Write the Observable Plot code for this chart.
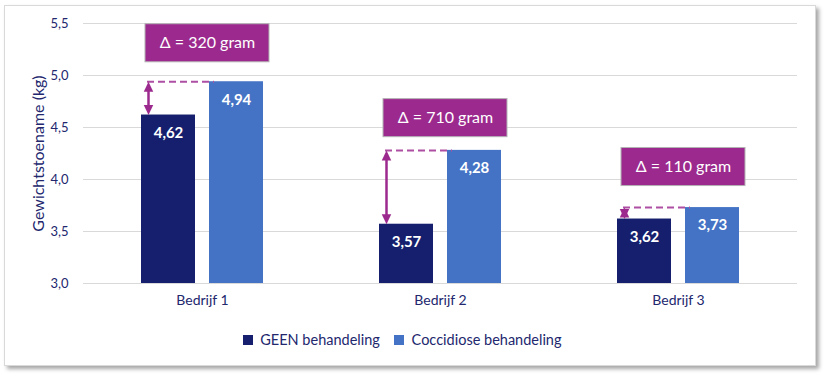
<!DOCTYPE html>
<html><head><meta charset="utf-8">
<script src="https://cdn.jsdelivr.net/npm/d3@7"></script>
<script src="https://cdn.jsdelivr.net/npm/@observablehq/plot@0.6"></script>
<style>
body{margin:0;background:#fff;font-family:Lato,sans-serif;}
#card{position:absolute;left:4px;top:5px;width:810px;height:359px;border:1px solid #d9d9d9;box-shadow:3px 3px 4px rgba(0,0,0,0.35);background:#fff;}
#chart{position:absolute;left:0;top:0;}
#legend{position:absolute;top:323px;left:0;width:819px;display:flex;justify-content:center;}
</style></head><body>
<div id="card"></div><div id="chart"></div><div id="legend"></div>
<script>
const companies = ["Bedrijf 1", "Bedrijf 2", "Bedrijf 3"];
const series = ["GEEN behandeling", "Coccidiose behandeling"];
const geen = [4.62, 3.57, 3.62];
const cocc = [4.94, 4.28, 3.73];
const deltaLabels = ["Δ = 320 gram", "Δ = 710 gram", "Δ = 110 gram"];
const labelY = [5.31, 4.59, 4.12];
const yTicks = [3.0, 3.5, 4.0, 4.5, 5.0, 5.5];
const yLabel = "Gewichtstoename (kg)";
const colors = ["#161f6d", "#4472c4"];
const purple = "#9c2a8e";
const textColor = "#22276e";

const rows = companies.map((c, i) => ({company: c, geen: geen[i], cocc: cocc[i], delta: deltaLabels[i], labelY: labelY[i]}));
const fmt = v => v.toFixed(2).replace(".", ",");
const half = 0.183;

// arrowhead symbols with the tip at the anchor point
const headW = 9.5, headH = 10;
const headUp = {draw(ctx) { ctx.moveTo(0, 0); ctx.lineTo(headW / 2, headH); ctx.lineTo(-headW / 2, headH); ctx.closePath(); }};
const headDown = {draw(ctx) { ctx.moveTo(0, 0); ctx.lineTo(headW / 2, -headH); ctx.lineTo(-headW / 2, -headH); ctx.closePath(); }};

const chart = Plot.plot({
  width: 825,
  height: 320,
  marginLeft: 83,
  marginRight: 28,
  marginTop: 23,
  marginBottom: 37,
  style: {fontFamily: "Lato, sans-serif", color: textColor, background: "transparent"},
  x: {domain: companies, padding: 0},
  y: {domain: [3, 5.5]},
  marks: [
    Plot.gridY(yTicks, {stroke: "#d9d9d9", strokeOpacity: 1}),
    Plot.barY(rows, {x: "company", y1: 3, y2: "geen", fill: colors[0], insetLeft: 58, insetRight: 126}),
    Plot.barY(rows, {x: "company", y1: 3, y2: "cocc", fill: colors[1], insetLeft: 126, insetRight: 58}),
    Plot.text(rows, {x: "company", y: "geen", text: d => fmt(d.geen), dx: -34, dy: 18, fill: "white", fontWeight: "bold", fontSize: 15}),
    Plot.text(rows, {x: "company", y: "cocc", text: d => fmt(d.cocc), dx: 34, dy: 18, fill: "white", fontWeight: "bold", fontSize: 15}),
    Plot.tickY(rows, {x: "company", y: "cocc", stroke: "#ad4fa3", strokeWidth: 2, strokeDasharray: "7,4", insetLeft: 64, insetRight: 107}),
    Plot.ruleX(rows, {x: "company", y1: "cocc", y2: "geen", dx: -54, stroke: purple, strokeWidth: 2.5, insetTop: 4, insetBottom: 4}),
    Plot.dot(rows, {x: "company", y: "cocc", symbol: headUp, fill: purple, stroke: null, dx: -54}),
    Plot.dot(rows, {x: "company", y: "geen", symbol: headDown, fill: purple, stroke: null, dx: -54}),
    Plot.barY(rows, {x: "company", y1: d => d.labelY - half, y2: d => d.labelY + half, fill: purple, stroke: "#b3b3b3", strokeWidth: 1, insetLeft: 62, insetRight: 52}),
    Plot.text(rows, {x: "company", y: "labelY", text: "delta", dx: 5, fill: "white", fontSize: 16}),
    Plot.axisY({ticks: yTicks, tickFormat: d => d.toFixed(1).replace(".", ","), tickSize: 0, tickPadding: 15, fontSize: 13, label: null}),
    Plot.text([yLabel], {text: d => d, frameAnchor: "left", textAnchor: "middle", rotate: -90, dx: -45, fontSize: 16, fill: textColor}),
    Plot.axisX({tickSize: 0, tickPadding: 12, fontSize: 14, label: null})
  ]
});
document.getElementById("chart").appendChild(chart);

const legend = Plot.legend({
  color: {type: "ordinal", domain: series, range: colors},
  swatchSize: 10,
  style: {fontFamily: "Lato, sans-serif", fontSize: "14.5px", color: textColor}
});
document.getElementById("legend").appendChild(legend);
</script>
</body></html>
